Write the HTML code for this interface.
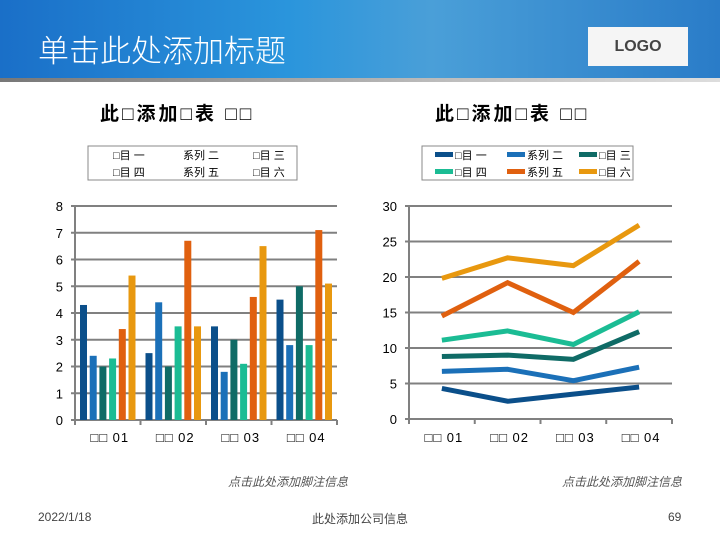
<!DOCTYPE html>
<html><head><meta charset="utf-8"><style>
body{margin:0;width:720px;height:540px;overflow:hidden;background:#fff;font-family:"Liberation Sans","Noto Sans CJK SC",sans-serif;position:relative}
.t{position:absolute;white-space:nowrap}
</style></head><body>
<div style="position:absolute;left:0;top:0;width:720px;height:78px;background:linear-gradient(90deg,#1a6fc8 0%,#2a95dc 40%,#4a9fd8 60%,#2a7cc8 100%)"></div>
<div style="position:absolute;left:0;top:78px;width:720px;height:4px;background:linear-gradient(90deg,#777,#bbb 60%,#ddd)"></div>
<div class="t" style="left:38px;top:26px;font-size:31px;color:#fff;font-family:'Noto Sans CJK SC',sans-serif;font-weight:300">单击此处添加标题</div>
<div style="position:absolute;left:588px;top:27px;width:100px;height:39px;background:#f5f5f5;text-align:center;line-height:39px;font-weight:bold;font-size:16px;color:#444">LOGO</div>
<div class="t" style="left:100px;top:99px;font-size:19px;font-weight:bold;letter-spacing:3px">此□添加□表 □□</div>
<div class="t" style="left:435px;top:99px;font-size:19px;font-weight:bold;letter-spacing:3px">此□添加□表 □□</div>
<svg width="720" height="540" style="position:absolute;left:0;top:0" id="svg" font-family="Liberation Sans, Noto Sans CJK SC, sans-serif">
<rect x="88" y="146" width="209" height="34" fill="#fff" stroke="#888"/>
<rect x="422" y="146" width="211" height="34" fill="#fff" stroke="#888"/>
<g id="g"></g>
</svg>
<div class="t" style="left:228px;top:473px;font-size:12px;color:#555;font-style:italic">点击此处添加脚注信息</div>
<div class="t" style="left:562px;top:473px;font-size:12px;color:#555;font-style:italic">点击此处添加脚注信息</div>
<div class="t" style="left:38px;top:510px;font-size:12px;color:#444">2022/1/18</div>
<div class="t" style="left:312px;top:510px;font-size:12px;color:#444">此处添加公司信息</div>
<div class="t" style="left:668px;top:510px;font-size:12px;color:#444">69</div>
<script>
const categories=["□□ 01","□□ 02","□□ 03","□□ 04"];
const seriesNames=["□目 一","系列 二","□目 三","□目 四","系列 五","□目 六"];
const barS1=[4.3,2.5,3.5,4.5];
const barS2=[2.4,4.4,1.8,2.8];
const barS3=[2.0,2.0,3.0,5.0];
const barS4=[2.3,3.5,2.1,2.8];
const barS5=[3.4,6.7,4.6,7.1];
const barS6=[5.4,3.5,6.5,5.1];
const lineS1=[4.3,2.5,3.5,4.5];
const lineS2=[6.7,7.0,5.4,7.3];
const lineS3=[8.8,9.0,8.4,12.3];
const lineS4=[11.1,12.4,10.5,15.1];
const lineS5=[14.5,19.2,15.0,22.2];
const lineS6=[19.8,22.7,21.6,27.3];
const leftTicks=[0,1,2,3,4,5,6,7,8];
const rightTicks=[0,5,10,15,20,25,30];
const colors=["#0b4f8a","#1b70b8","#0f6b66","#1bbc94","#e0600f","#e8980f"];
const NS="http://www.w3.org/2000/svg",g=document.getElementById('g');
function mk(t,a){const e=document.createElementNS(NS,t);for(const k in a)e.setAttribute(k,a[k]);g.appendChild(e);return e;}
const L={x0:75,x1:337,y0:420,y1:206,max:8};
const ly=v=>L.y0-(L.y0-L.y1)*v/L.max;
const gw=(L.x1-L.x0)/categories.length;
leftTicks.forEach(v=>{const l=mk('line',{x1:L.x0-4,x2:L.x1,y1:ly(v),y2:ly(v),stroke:'#808080','stroke-width':2});


const t=mk('text',{x:63,y:ly(v)+5,'font-size':13,'text-anchor':'end'});t.textContent=v;

});
mk('line',{x1:L.x0,x2:L.x0,y1:L.y1,y2:L.y0+5,stroke:'#808080','stroke-width':2});
const bars=[barS1,barS2,barS3,barS4,barS5,barS6];
categories.forEach((c,i)=>{const gx=L.x0+gw*i;
mk('line',{x1:gx+gw,x2:gx+gw,y1:L.y0,y2:L.y0+5,stroke:'#808080','stroke-width':2});
bars.forEach((s,j)=>{const r=mk('rect',{x:gx+5+j*9.7,y:ly(s[i]),width:7,height:L.y0-ly(s[i]),fill:colors[j]});

});
const t=mk('text',{x:gx+gw/2+2,y:442,'font-size':13,'text-anchor':'middle','letter-spacing':1});t.textContent=c;

});
const R={x0:409,x1:672,y0:419,y1:206,max:30};
const ry=v=>R.y0-(R.y0-R.y1)*v/R.max;
const rw=(R.x1-R.x0)/categories.length;
rightTicks.forEach(v=>{const l=mk('line',{x1:R.x0-4,x2:R.x1,y1:ry(v),y2:ry(v),stroke:'#808080','stroke-width':2});


const t=mk('text',{x:397,y:ry(v)+5,'font-size':13,'text-anchor':'end'});t.textContent=v;

});
mk('line',{x1:R.x0,x2:R.x0,y1:R.y1,y2:R.y0+5,stroke:'#808080','stroke-width':2});
categories.forEach((c,i)=>{mk('line',{x1:R.x0+rw*(i+1),x2:R.x0+rw*(i+1),y1:R.y0,y2:R.y0+5,stroke:'#808080','stroke-width':2});
const t=mk('text',{x:R.x0+rw*(i+0.5)+2,y:442,'font-size':13,'text-anchor':'middle','letter-spacing':1});t.textContent=c;

});
[lineS1,lineS2,lineS3,lineS4,lineS5,lineS6].forEach((s,j)=>{const p=mk('polyline',{points:s.map((v,i)=>(R.x0+rw*(i+0.5))+','+ry(v)).join(' '),fill:'none',stroke:colors[j],'stroke-width':5});

});
seriesNames.forEach((n,j)=>{const col=j%3,row=Math.floor(j/3);
const t=mk('text',{x:113+col*70,y:159+row*17,'font-size':11});t.textContent=n;


const sx=435+col*72;
const sw=mk('rect',{x:sx,y:152+row*17,width:18,height:5,fill:colors[j]});


const t2=mk('text',{x:sx+20,y:159+row*17,'font-size':11});t2.textContent=n;

});
</script>
</body></html>
